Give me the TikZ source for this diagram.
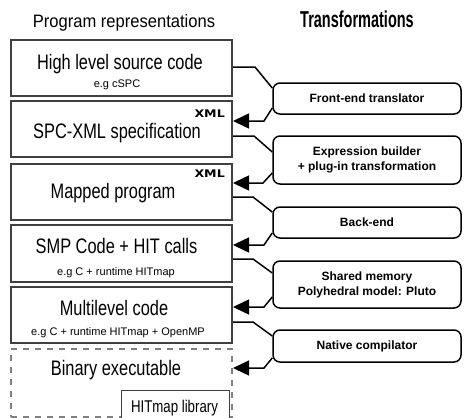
\documentclass[tikz,border=0pt]{standalone}
\usepackage{fontspec}
\setmainfont{Liberation Sans}
\newfontfamily\narrowfont[FakeStretch=0.78]{Liberation Sans}
\newfontfamily\titlefont[FakeStretch=0.92]{Liberation Sans}
\newfontfamily\headfont[FakeStretch=0.63]{Liberation Sans}
\newfontfamily\xmlfont[FakeStretch=1.2]{DejaVu Sans}
\usetikzlibrary{positioning}
\usetikzlibrary{arrows.meta}
\usetikzlibrary{calc}
\definecolor{boxgray}{HTML}{404040}
\tikzset{
    repbox/.style = {rectangle, line width=2pt, draw=boxgray, fill=white, minimum width=221pt, minimum height=56pt, inner sep=0pt},
    repboxd/.style = {rectangle, line width=2pt, draw=gray, dash pattern=on 6pt off 6pt, minimum width=221pt, minimum height=68pt, inner sep=0pt},
    hitbox/.style = {rectangle, line width=1pt, draw=boxgray, fill=white, minimum width=108pt, minimum height=40pt, inner sep=0pt, anchor=north west},
    trbox/.style = {rectangle, rounded corners=7pt, line width=1.5pt, draw=black, fill=white, align=center, minimum width=188pt, inner sep=0pt, font=\bfseries\fontsize{12}{15}\selectfont},
    maintxt/.style = {anchor=base, inner sep=0pt, font=\narrowfont\fontsize{21}{25}\selectfont},
    smalltxt/.style = {anchor=base, inner sep=0pt, font=\fontsize{11}{13}\selectfont},
    xmltxt/.style = {anchor=base east, inner sep=0pt, font=\xmlfont\bfseries\fontsize{10.5}{12}\selectfont},
    edgen/.style = {-, line width=1.5pt, black},
    edgea/.style = {-{Triangle[length=16pt,width=15pt]}, line width=1.5pt, black}, % into next representation
}

\begin{document}
\begin{tikzpicture}[x=1pt, y=-1pt]
\useasboundingbox (0,0) rectangle (464,418);
\clip (0,0) rectangle (464,418);

\node[anchor=base, font=\titlefont\fontsize{18}{22}\selectfont] (reptitle) at (124,27) {Program representations};
\node[anchor=base, font=\headfont\bfseries\fontsize{23}{27}\selectfont] (trtitle) at (357,27.5) {Transformations};

% program representations
\node[repbox] (hl) at (121.5,68) {};
\node[repbox] (spc) at (121.5,129) {};
\node[repbox] (mp) at (121.5,192) {};
\node[repbox, minimum height=57pt] (smp) at (121.5,253.5) {};
\node[repbox] (ml) at (121.5,315) {};
\node[repboxd] (bin) at (121.5,383) {};
\node[hitbox] (hit) at (121,390) {};

\node[maintxt] (hltxt) at (120,69.5) {High level source code};
\node[smalltxt] (hlsub) at (117,87.5) {e.g cSPC};
\node[maintxt] (spctxt) at (117,138) {SPC-XML specification};
\node[xmltxt] (spcxml) at (225,117) {XML};
\node[maintxt] (mptxt) at (113,198) {Mapped program};
\node[xmltxt] (mpxml) at (225,177) {XML};
\node[maintxt] (smptxt) at (116.5,253) {SMP Code + HIT calls};
\node[smalltxt] (smpsub) at (116,275) {e.g C + runtime HITmap};
\node[maintxt] (mltxt) at (114,315) {Multilevel code};
\node[smalltxt] (mlsub) at (118,335) {e.g C + runtime HITmap + OpenMP};
\node[maintxt] (bintxt) at (116,375) {Binary executable};
\node[maintxt, font=\narrowfont\fontsize{17}{20}\selectfont] (hittxt) at (174.5,412) {HITmap library};

% transformations
\node[trbox, minimum height=31pt] (fe) at (367,98.5) {Front-end translator};
\node[trbox, minimum height=48pt] (eb) at (367,160) {Expression builder\\+ plug-in transformation};
\node[trbox, minimum height=31pt] (be) at (367,222.5) {Back-end};
\node[trbox, minimum height=47pt] (sm) at (367,284.5) {Shared memory\\Polyhedral model: Pluto};
\node[trbox, minimum height=32pt] (nc) at (367,346) {Native compilator};

\draw[edgen] ($(hl.east)+(0,-1)$) -- ++(22,0) -- ($(fe.west)+(0,-10.5)$);
\draw[edgea] ($(fe.west)+(0,9.5)$) -- ($(spc.east)+(31,-8)$) -- ($(spc.east)+(0,-8)$);
\draw[edgen] ($(spc.east)+(0,7)$) -- ++(21,0) -- ($(eb.west)+(0,-8)$);
\draw[edgea] ($(eb.west)+(0,13)$) -- ($(mp.east)+(30,-9)$) -- ($(mp.east)+(0,-9)$);
\draw[edgen] ($(mp.east)+(0,5)$) -- ++(20,0) -- ($(be.west)+(0,-10.5)$);
\draw[edgea] ($(be.west)+(0,10.5)$) -- ($(smp.east)+(31,-8.5)$) -- ($(smp.east)+(0,-8.5)$);
\draw[edgen] ($(smp.east)+(0,5.5)$) -- ++(20,0) -- ($(sm.west)+(0,-11.5)$);
\draw[edgea] ($(sm.west)+(0,12.5)$) -- ($(ml.east)+(31,-8)$) -- ($(ml.east)+(0,-8)$);
\draw[edgen] ($(ml.east)+(0,7)$) -- ++(20,0) -- ($(nc.west)+(0,-10)$);
\draw[edgea] ($(nc.west)+(0,12)$) -- ($(bin.east)+(31,-15)$) -- ($(bin.east)+(0,-15)$);
\end{tikzpicture}
\end{document}
